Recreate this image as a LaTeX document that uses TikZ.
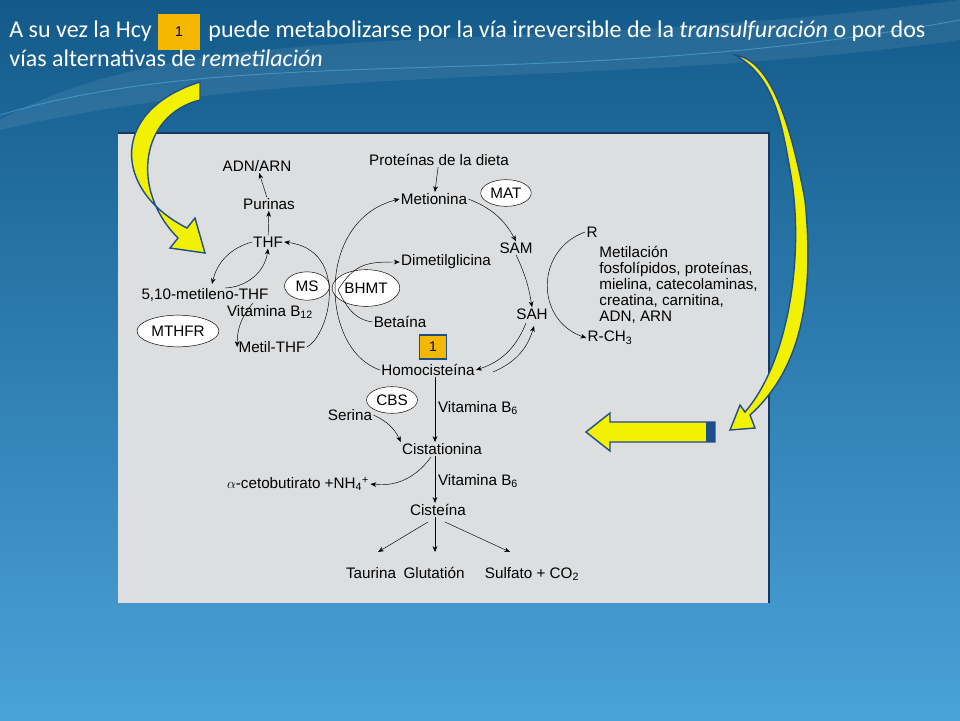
\documentclass[tikz,border=0pt]{standalone}
\usepackage{fontspec}
\setmainfont{Liberation Sans}
\newfontfamily\slidefont{Carlito}
\usetikzlibrary{shapes.geometric,arrows.meta}
\definecolor{panelgray}{HTML}{DCDEE0}
\definecolor{boxorange}{HTML}{F5B800}
\definecolor{boxblue}{HTML}{1F4E8C}
\definecolor{bgtop}{HTML}{135A8A}
\definecolor{bgbot}{HTML}{4AA2D8}
\definecolor{arrowyel}{HTML}{F2F200}
\begin{document}
\begin{tikzpicture}[x = 0.03cm, y = -0.03cm,
    every node/.style = {font = \fontsize{13}{15}\selectfont, inner sep = 1pt},
    enzyme/.style = {ellipse, draw, fill = white, inner sep = 2pt},
    numbox/.style = {draw = boxblue, line width = 1.2pt, fill = boxorange, minimum width = 0.8cm, minimum height = 0.72cm, font = \fontsize{12}{12}\rmfamily},
    flow/.style = {-{Stealth[length = 5pt, width = 4pt]}, thin},
    slide/.style = {anchor = base west, text = white, font = \fontsize{20.5}{24}\slidefont},
    bigarrow/.style = {fill = arrowyel, draw = boxblue, line width = 1.2pt}]
    % background
    \shade[top color = bgtop, bottom color = bgbot] (0, 0) rectangle (960, 720);
    \useasboundingbox (0, 0) rectangle (960, 720);
    \fill[white, opacity = 0.08] (0, 120) .. controls (200, 10) and (500, 60) .. (960, 0) -- (960, 40) .. controls (600, 90) and (300, 60) .. (0, 130) -- cycle;
    \draw[cyan!60, opacity = 0.4, thick] (0, 115) .. controls (250, 40) and (550, 95) .. (960, 20);
    % title
    \node[slide] (title1) at (8, 37) {A su vez la Hcy};
    \node[numbox, draw = none, minimum height = 1.1cm, minimum width = 1.25cm] (titlebox) at (179, 32) {1};
    \node[slide] (title2) at (207, 37) {puede metabolizarse por la vía irreversible de la \textit{transulfuración} o por dos};
    \node[slide] (title3) at (8, 66) {vías alternativas de \textit{remetilación}};
    % panel
    \fill[panelgray] (118, 133) rectangle (769, 603);
    \draw[boxblue!70!black, line width = 1.5pt] (118, 133) -- (769, 133) -- (769, 603);
    % folate cycle
    \node (adn) at (257, 166) {ADN/ARN};
    \node (purinas) at (269, 204) {Purinas};
    \node (thf) at (268, 242) {THF};
    \node (metileno) at (205, 295) {5,10-metileno-THF};
    \node[enzyme, minimum width = 2.3cm, minimum height = 0.95cm] (mthfr) at (178, 331) {MTHFR};
    \node (metilthf) at (272, 347) {Metil-THF};
    \node[enzyme, minimum width = 1.35cm, minimum height = 0.85cm] (ms) at (307, 286) {MS};
    \node (b12) at (270, 312) {Vitamina B\textsubscript{12}};
    \node[enzyme, minimum width = 1.65cm, minimum height = 1.1cm] (bhmt) at (366, 288) {BHMT};
    % methionine cycle
    \node (dieta) at (439, 160) {Proteínas de la dieta};
    \node (metionina) at (434, 199) {Metionina};
    \node[enzyme, minimum width = 1.35cm, minimum height = 0.8cm] (mat) at (506, 193) {MAT};
    \node (dimetil) at (446, 262) {Dimetilglicina};
    \node (sam) at (516, 248) {SAM};
    \node (sah) at (532, 314) {SAH};
    \node (betaina) at (400, 322) {Betaína};
    \node[numbox] (box) at (433, 347) {1};
    \node (hcy) at (428, 370) {Homocisteína};
    \node (r) at (592, 232) {R};
    \node[anchor = north west, align = left, font = \fontsize{13}{13.6}\selectfont] (metilacion) at (598, 245)
        {Metilación\\fosfolípidos, proteínas,\\mielina, catecolaminas,\\creatina, carnitina,\\ADN, ARN};
    \node (rch3) at (610, 338) {R-CH\textsubscript{3}};
    % transsulfuration
    \node[enzyme, minimum width = 1.35cm, minimum height = 0.8cm] (cbs) at (392, 400) {CBS};
    \node (serina) at (350, 415) {Serina};
    \node (vitb6a) at (478, 408) {Vitamina B\textsubscript{6}};
    \node (cistationina) at (442, 449) {Cistationina};
    \node (ceto) at (298, 484) {$\alpha$-cetobutirato +NH\textsubscript{4}\textsuperscript{+}};
    \node (vitb6b) at (478, 481) {Vitamina B\textsubscript{6}};
    \node (cisteina) at (438, 510) {Cisteína};
    \node[anchor = base] (taurina) at (371, 578) {Taurina};
    \node[anchor = base] (glutation) at (434, 578) {Glutatión};
    \node[anchor = base] (sulfato) at (532, 578) {Sulfato + CO\textsubscript{2}};
    \coordinate (cross) at (338, 290);
    % connectors
    \draw[flow] (purinas) -- (adn);
    \draw[flow] (thf) -- (purinas);
    \draw[flow] (thf.west) to[bend right = 30] (212, 284);
    \draw[flow] (225, 288) to[bend right = 40] (thf.south);
    \draw[flow] (253, 303) to[bend right = 20] (metilthf.west);
    \draw[flow] (metilthf.east) .. controls (330, 335) and (350, 250) .. (thf.east);
    \draw[flow] (hcy.west) .. controls (320, 350) and (315, 220) .. (metionina.west);
    \draw[flow] (cross) .. controls (355, 262) and (370, 262) .. (dimetil.west);
    \draw (cross) .. controls (350, 315) and (360, 320) .. (betaina.west);
    \draw[flow] (dieta) -- (metionina);
    \draw[flow] (metionina.east) to[bend left = 20] (sam.north);
    \draw[flow] (sam.south) to[bend left = 8] (sah.north);
    \draw[flow] (526, 323) to[bend left = 25] (hcy.east);
    \draw[flow] (493, 372) to[bend right = 25] (534, 326);
    \draw[flow] (r.west) .. controls (535, 250) and (535, 320) .. (rch3.west);
    \draw[flow] (hcy.south -| 435, 0) -- (cistationina.north -| 435, 0);
    \draw[flow] (serina.east) to[bend left = 20] (cistationina.north west);
    \draw[flow] (431, 457) to[bend left = 30] (ceto.east);
    \draw[flow] (cistationina.south -| 435, 0) -- (cisteina.north -| 435, 0);
    \draw[flow] (428, 522) -- (378, 552);
    \draw[flow] (cisteina.south -| 435, 0) -- (435, 552);
    \draw[flow] (445, 522) -- (510, 552);
    % yellow arrows
    \draw[bigarrow] (200, 82) -- (200, 100) .. controls (140, 115) and (130, 190) .. (178, 238)
        -- (170, 248) -- (205, 253) -- (195, 218) -- (187, 228) .. controls (112, 190) and (110, 110) .. (200, 82) -- cycle;
    \draw[bigarrow] (735, 55) .. controls (770, 60) and (790, 120) .. (805, 200)
        .. controls (815, 300) and (800, 370) .. (750, 415) -- (755, 428) -- (730, 430) -- (740, 405) -- (745, 412)
        .. controls (790, 360) and (805, 250) .. (790, 170) .. controls (780, 110) and (770, 75) .. (735, 55) -- cycle;
    \draw[bigarrow] (715, 422) -- (610, 422) -- (610, 413) -- (586, 432) -- (610, 451) -- (610, 442) -- (715, 442) -- cycle;
    \fill[boxblue] (706, 422) rectangle (715, 442);
\end{tikzpicture}
\end{document}
